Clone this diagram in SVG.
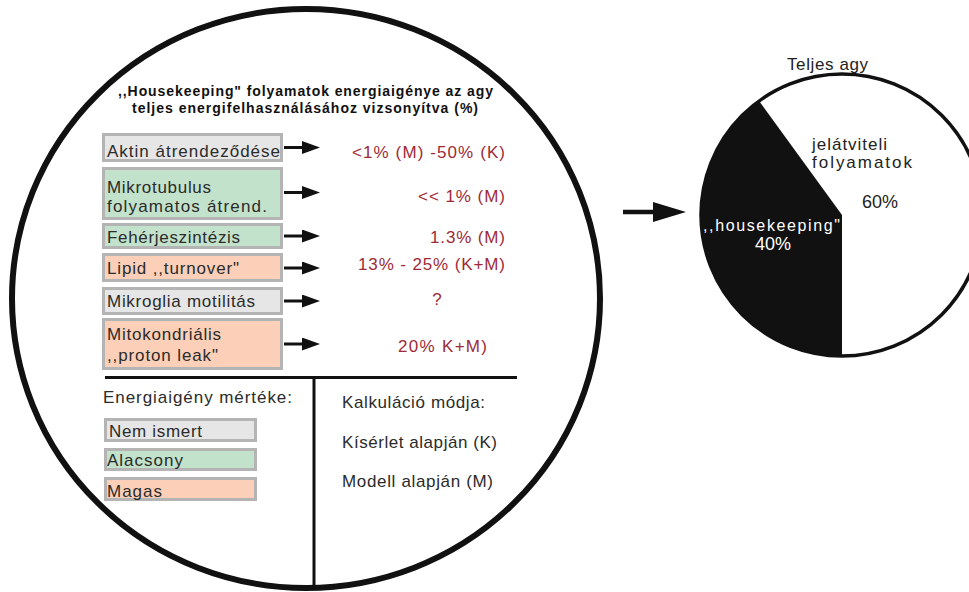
<svg xmlns="http://www.w3.org/2000/svg" width="969" height="592" viewBox="0 0 969 592">
<style>
text{font-family:"Liberation Sans",Arial,sans-serif;}
.t{font-size:17px;fill:#2b2b2b;}
.v{font-size:17px;fill:#9e2a36;}
.h{font-size:14px;font-weight:bold;fill:#111;}
.p{font-size:17px;fill:#222;}
.pw{font-size:16px;fill:#fff;}
.box{stroke:#b4b4b4;stroke-width:3;}
.gray{fill:#e6e6e6;}
.green{fill:#c3e2cb;}
.orange{fill:#fcd0b8;}
.ln{stroke:#111;stroke-width:3;fill:none;}
.arr{stroke:#111;stroke-width:3;marker-end:url(#ah);}
</style>
<defs>
<marker id="ah" markerUnits="userSpaceOnUse" markerWidth="18" markerHeight="13" refX="8" refY="6.5" orient="auto">
<path d="M0,0 L18,6.5 L0,13 Z" fill="#111"/>
</marker>
<marker id="ah2" markerUnits="userSpaceOnUse" markerWidth="33" markerHeight="20" refX="8" refY="10" orient="auto">
<path d="M0,0 L33,10 L0,20 Z" fill="#111"/>
</marker>
</defs>
<rect width="969" height="592" fill="#fff"/>

<g id="main-circle">
<ellipse cx="306" cy="298.5" rx="294" ry="289.5" fill="#fff" stroke="#111" stroke-width="6"/>
<line class="ln" x1="105" y1="377.5" x2="517" y2="377.5"/>
<line class="ln" x1="314" y1="377.5" x2="314" y2="588"/>
</g>

<g id="title">
<text class="h" x="305.5" y="96" text-anchor="middle" textLength="375">,,Housekeeping" folyamatok energiaigénye az agy</text>
<text class="h" x="305" y="113" text-anchor="middle" textLength="346">teljes energifelhasználásához vizsonyítva (%)</text>
</g>

<g id="box-aktin">
<rect class="box gray" x="103.5" y="134.5" width="178" height="26"/>
<text class="t" x="107" y="157" textLength="173">Aktin átrendeződése</text>
</g>
<g id="box-mikrotubulus">
<rect class="box green" x="103.5" y="168.5" width="178" height="50"/>
<text class="t" x="107" y="193" textLength="104">Mikrotubulus</text>
<text class="t" x="107" y="212" textLength="160">folyamatos átrend.</text>
</g>
<g id="box-feherje">
<rect class="box green" x="103.5" y="224.5" width="178" height="23"/>
<text class="t" x="107" y="243" textLength="133">Fehérjeszintézis</text>
</g>
<g id="box-lipid">
<rect class="box orange" x="103.5" y="254.5" width="178" height="26"/>
<text class="t" x="107" y="274" textLength="132">Lipid ,,turnover"</text>
</g>
<g id="box-mikroglia">
<rect class="box gray" x="103.5" y="288.5" width="178" height="25"/>
<text class="t" x="107" y="307" textLength="148">Mikroglia motilitás</text>
</g>
<g id="box-mitokondrialis">
<rect class="box orange" x="103.5" y="319.5" width="178" height="49"/>
<text class="t" x="107" y="340" textLength="114">Mitokondriális</text>
<text class="t" x="107" y="361" textLength="111">,,proton leak"</text>
</g>

<g id="values">
<text class="v" x="505" y="158" text-anchor="end" textLength="153">&lt;1% (M) -50% (K)</text>
<text class="v" x="505" y="202" text-anchor="end" textLength="87">&lt;&lt; 1% (M)</text>
<text class="v" x="505" y="243" text-anchor="end" textLength="75">1.3% (M)</text>
<text class="v" x="505" y="270" text-anchor="end" textLength="147">13% - 25% (K+M)</text>
<text class="v" x="437" y="305" text-anchor="middle">?</text>
<text class="v" x="398" y="352" textLength="89">20% K+M)</text>
</g>

<g id="legend-energia">
<text class="t" x="103" y="403" textLength="189">Energiaigény mértéke:</text>
<rect class="box gray" x="105.5" y="419.5" width="150" height="21"/>
<text class="t" x="109" y="437" textLength="93">Nem ismert</text>
<rect class="box green" x="105.5" y="449.5" width="150" height="20"/>
<text class="t" x="107" y="466" textLength="76">Alacsony</text>
<rect class="box orange" x="105.5" y="478.5" width="150" height="21"/>
<text class="t" x="107" y="497" textLength="55">Magas</text>
</g>

<g id="legend-kalkulacio">
<text class="t" x="342" y="408" textLength="143">Kalkuláció módja:</text>
<text class="t" x="342" y="448" textLength="155">Kísérlet alapján (K)</text>
<text class="t" x="342" y="487" textLength="151">Modell alapján (M)</text>
</g>

<g id="pie">
<text class="p" x="827.5" y="70" text-anchor="middle" textLength="81">Teljes agy</text>
<circle cx="842" cy="215" r="141" fill="#fff" stroke="#111" stroke-width="3.5"/>
<path d="M842,215 L842,356 A141,141 0 0 1 759.1,100.9 Z" fill="#111"/>
<text class="p" x="812" y="150" textLength="75">jelátviteli</text>
<text class="p" x="812" y="168" textLength="100">folyamatok</text>
<text class="p" x="880" y="208" text-anchor="middle" style="font-size:18px">60%</text>
<text class="pw" x="703" y="231" textLength="137">,,housekeeping"</text>
<text class="pw" x="773" y="250" text-anchor="middle" style="font-size:18px">40%</text>
</g>

<g id="connectors">
<line class="arr" x1="284" y1="147.5" x2="310" y2="147.5"/>
<line class="arr" x1="284" y1="192.5" x2="310" y2="192.5"/>
<line class="arr" x1="284" y1="236" x2="310" y2="236"/>
<line class="arr" x1="284" y1="268" x2="310" y2="268"/>
<line class="arr" x1="284" y1="301" x2="310" y2="301"/>
<line class="arr" x1="284" y1="344" x2="310" y2="344"/>
<line x1="623" y1="212" x2="661" y2="212" stroke="#111" stroke-width="4.5" marker-end="url(#ah2)"/>
</g>
</svg>
